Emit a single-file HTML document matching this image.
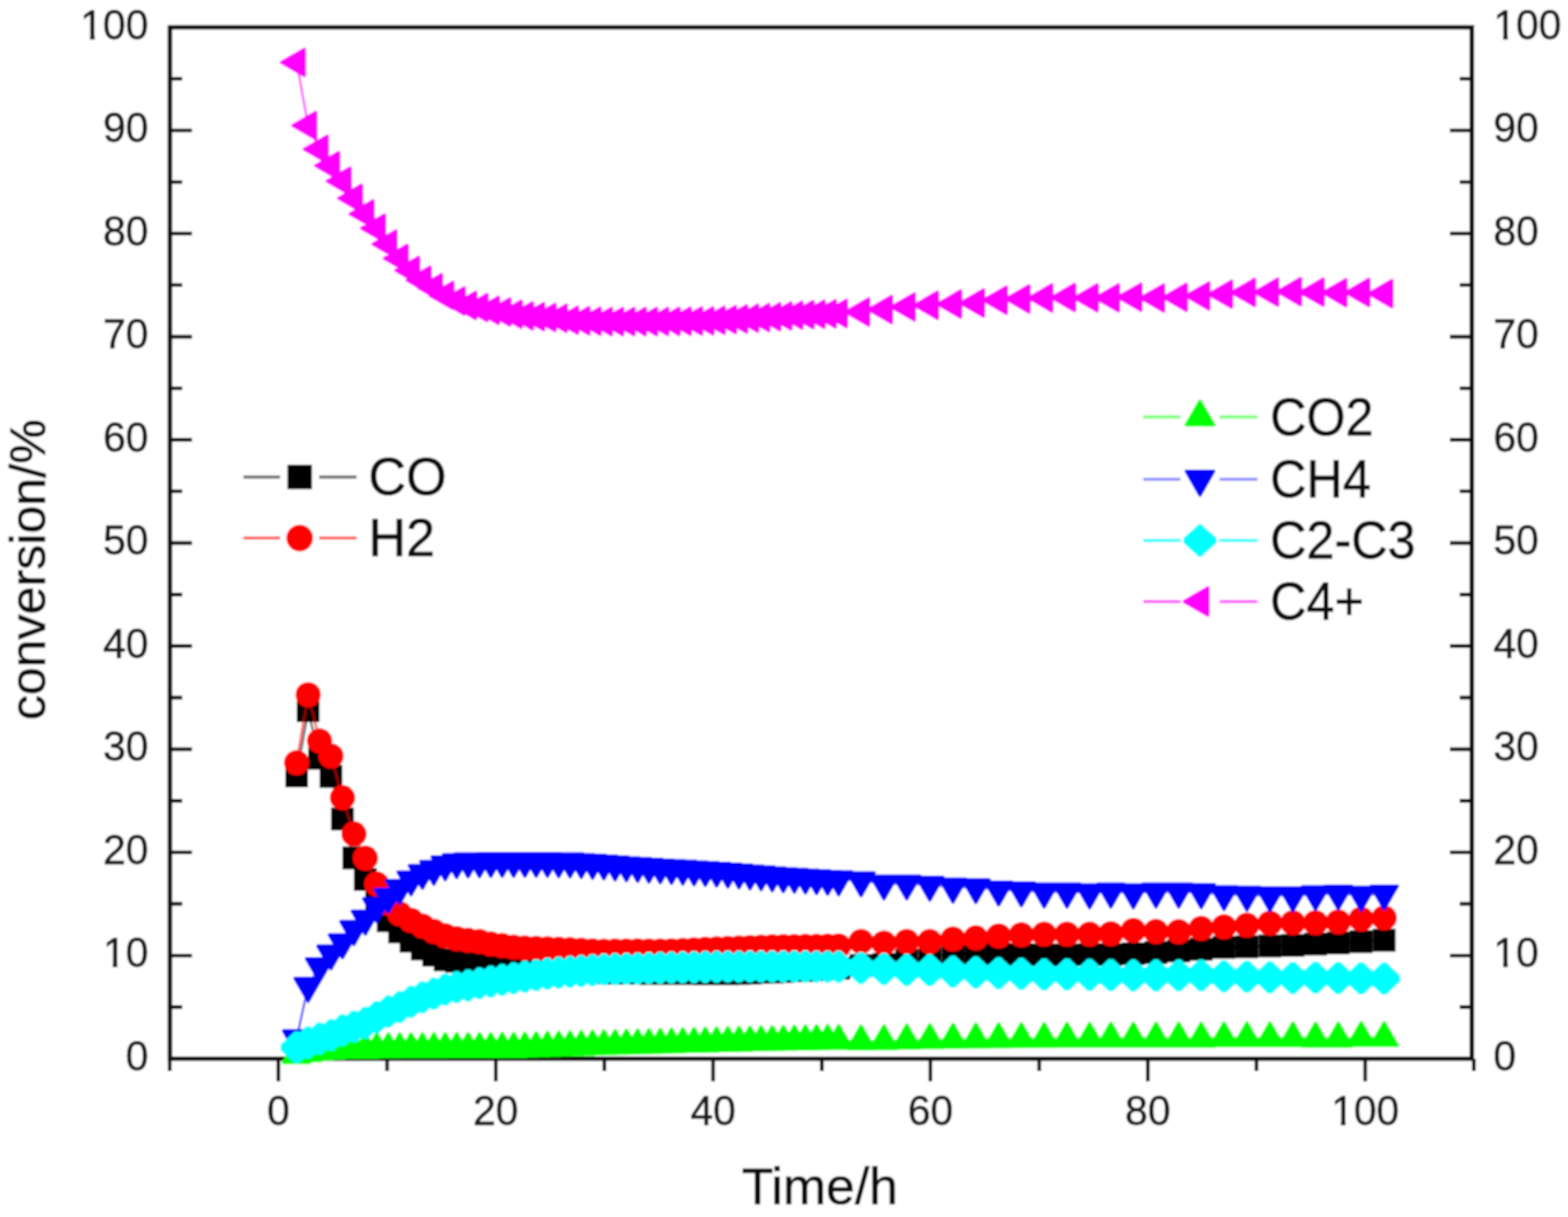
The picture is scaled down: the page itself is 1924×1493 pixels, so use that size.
<!DOCTYPE html>
<html><head><meta charset="utf-8"><title>conversion vs time</title>
<style>html,body{margin:0;padding:0;background:#fff;}svg{display:block;}</style>
</head><body>
<svg width="1924" height="1493" viewBox="0 0 1924 1493">
<defs><filter id="soft" x="0" y="0" width="100%" height="100%" filterUnits="userSpaceOnUse"><feGaussianBlur stdDeviation="1.3"/></filter></defs>
<g filter="url(#soft)">
<rect width="1924" height="1493" fill="#fff"/>
<path d="M208.5 33.5H1806V1298.7H208.5Z" fill="none" stroke="#111" stroke-width="5.6" stroke-linejoin="miter"/>
<path d="M208.5 1235.4h15M1806 1235.4h-15M208.5 1172.2h27M1806 1172.2h-27M208.5 1108.9h15M1806 1108.9h-15M208.5 1045.7h27M1806 1045.7h-27M208.5 982.4h15M1806 982.4h-15M208.5 919.1h27M1806 919.1h-27M208.5 855.9h15M1806 855.9h-15M208.5 792.6h27M1806 792.6h-27M208.5 729.4h15M1806 729.4h-15M208.5 666.1h27M1806 666.1h-27M208.5 602.8h15M1806 602.8h-15M208.5 539.6h27M1806 539.6h-27M208.5 476.3h15M1806 476.3h-15M208.5 413.1h27M1806 413.1h-27M208.5 349.8h15M1806 349.8h-15M208.5 286.5h27M1806 286.5h-27M208.5 223.3h15M1806 223.3h-15M208.5 160h27M1806 160h-27M208.5 96.8h15M1806 96.8h-15M208.2 1298.7v15.2M341.6 1298.7v27.7M475 1298.7v15.2M608.3 1298.7v27.7M741.7 1298.7v15.2M875 1298.7v27.7M1008.4 1298.7v15.2M1141.7 1298.7v27.7M1275.1 1298.7v15.2M1408.4 1298.7v27.7M1541.8 1298.7v15.2M1675.1 1298.7v27.7M1808.5 1298.7v15.2" fill="none" stroke="#111" stroke-width="4.6"/>
<g font-family="'Liberation Sans', Arial, Helvetica, sans-serif" stroke-width="0.9" font-size="50" fill="#1a1a1a" stroke="#1a1a1a"><text x="182" y="1312.7" text-anchor="end">0</text><text x="1832.5" y="1312.7">0</text><text x="182" y="1186.2" text-anchor="end">10</text><text x="1832.5" y="1186.2">10</text><text x="182" y="1059.7" text-anchor="end">20</text><text x="1832.5" y="1059.7">20</text><text x="182" y="933.1" text-anchor="end">30</text><text x="1832.5" y="933.1">30</text><text x="182" y="806.6" text-anchor="end">40</text><text x="1832.5" y="806.6">40</text><text x="182" y="680.1" text-anchor="end">50</text><text x="1832.5" y="680.1">50</text><text x="182" y="553.6" text-anchor="end">60</text><text x="1832.5" y="553.6">60</text><text x="182" y="427.1" text-anchor="end">70</text><text x="1832.5" y="427.1">70</text><text x="182" y="300.5" text-anchor="end">80</text><text x="1832.5" y="300.5">80</text><text x="182" y="174" text-anchor="end">90</text><text x="1832.5" y="174">90</text><text x="182" y="47.5" text-anchor="end">100</text><text x="1832.5" y="47.5">100</text><text x="341.6" y="1380" text-anchor="middle">0</text><text x="608.3" y="1380" text-anchor="middle">20</text><text x="875" y="1380" text-anchor="middle">40</text><text x="1141.7" y="1380" text-anchor="middle">60</text><text x="1408.4" y="1380" text-anchor="middle">80</text><text x="1675.1" y="1380" text-anchor="middle">100</text></g>
<rect x="129" y="1180.4" width="9.3" height="7.7" fill="#fff"/><rect x="144.1" y="1180.4" width="8.9" height="7.7" fill="#fff"/><rect x="1835.1" y="1180.4" width="9.3" height="7.7" fill="#fff"/><rect x="1850.2" y="1180.4" width="8.9" height="7.7" fill="#fff"/><rect x="101.2" y="41.8" width="9.3" height="7.7" fill="#fff"/><rect x="116.3" y="41.8" width="8.9" height="7.7" fill="#fff"/><rect x="1835.1" y="41.8" width="9.3" height="7.7" fill="#fff"/><rect x="1850.2" y="41.8" width="8.9" height="7.7" fill="#fff"/><rect x="1636" y="1374.3" width="9.3" height="7.7" fill="#fff"/><rect x="1651.1" y="1374.3" width="8.9" height="7.7" fill="#fff"/>
<text font-family="'Liberation Sans', Arial, Helvetica, sans-serif" stroke-width="0.9" font-size="63.5" fill="#111" stroke="#111" x="1006" y="1477" text-anchor="middle">Time/h</text>
<text font-family="'Liberation Sans', Arial, Helvetica, sans-serif" stroke-width="0.9" font-size="61.5" fill="#111" stroke="#111" transform="translate(55 699) rotate(-90)" text-anchor="middle">conversion/%</text>
<g>
<polyline points="364,952 378.1,871.7 392.1,930.2 406.1,952.6 420.2,1004.7 434.2,1052.5 448.3,1078.9 462.3,1104.6 476.4,1129.5 490.4,1143.2 504.4,1154.6 518.3,1164.3 532.3,1171.8 546.3,1177.5 560.3,1179.2 574.3,1180 588.3,1181.1 602.2,1182.2 616.2,1183.2 630.2,1184.3 644,1185.3 657.9,1186.5 671.7,1187.6 685.5,1188.8 699.4,1189.9 713.2,1191.1 727.1,1192.2 740.9,1193.3 754.7,1194 768.6,1194.1 782.4,1194.1 796.2,1194.2 810.1,1194.2 823.9,1194.2 837.8,1194.3 851.6,1194.3 865.4,1194.4 879.3,1194.4 893.1,1194.5 906.7,1194.2 920.3,1193.7 933.9,1193.1 947.5,1192.5 961.1,1191.9 974.7,1191.1 988.3,1190.4 1001.9,1189.6 1015.5,1188.8 1029.1,1188 1056.5,1184.5 1084.6,1183 1112.6,1178 1140.9,1174 1169.3,1170 1197.4,1169.5 1225.4,1170 1253.2,1171 1281.2,1171.5 1309.2,1171.5 1337,1171 1363,1171 1390.6,1170 1418.4,1168.5 1446.3,1166.5 1473.9,1164.5 1501.9,1162.2 1530,1161.4 1558.3,1160.6 1586.4,1159.8 1614.2,1158.3 1642.1,1156.7 1670.2,1155.2 1698.4,1153.6" fill="none" stroke="#000" stroke-width="3" stroke-opacity="0.55"/>
<path d="M350 938h28v28h-28ZM364.1 857.7h28v28h-28ZM378.1 916.2h28v28h-28ZM392.1 938.6h28v28h-28ZM406.2 990.7h28v28h-28ZM420.2 1038.5h28v28h-28ZM434.3 1064.9h28v28h-28ZM448.3 1090.6h28v28h-28ZM462.4 1115.5h28v28h-28ZM476.4 1129.2h28v28h-28ZM490.4 1140.6h28v28h-28ZM504.3 1150.3h28v28h-28ZM518.3 1157.8h28v28h-28ZM532.3 1163.5h28v28h-28ZM546.3 1165.2h28v28h-28ZM560.3 1166h28v28h-28ZM574.3 1167.1h28v28h-28ZM588.2 1168.2h28v28h-28ZM602.2 1169.2h28v28h-28ZM616.2 1170.3h28v28h-28ZM630 1171.3h28v28h-28ZM643.9 1172.5h28v28h-28ZM657.7 1173.6h28v28h-28ZM671.5 1174.8h28v28h-28ZM685.4 1175.9h28v28h-28ZM699.2 1177.1h28v28h-28ZM713.1 1178.2h28v28h-28ZM726.9 1179.3h28v28h-28ZM740.7 1180h28v28h-28ZM754.6 1180.1h28v28h-28ZM768.4 1180.1h28v28h-28ZM782.2 1180.2h28v28h-28ZM796.1 1180.2h28v28h-28ZM809.9 1180.2h28v28h-28ZM823.8 1180.3h28v28h-28ZM837.6 1180.3h28v28h-28ZM851.4 1180.4h28v28h-28ZM865.3 1180.4h28v28h-28ZM879.1 1180.5h28v28h-28ZM892.7 1180.2h28v28h-28ZM906.3 1179.7h28v28h-28ZM919.9 1179.1h28v28h-28ZM933.5 1178.5h28v28h-28ZM947.1 1177.9h28v28h-28ZM960.7 1177.1h28v28h-28ZM974.3 1176.4h28v28h-28ZM987.9 1175.6h28v28h-28ZM1001.5 1174.8h28v28h-28ZM1015.1 1174h28v28h-28ZM1042.5 1170.5h28v28h-28ZM1070.6 1169h28v28h-28ZM1098.6 1164h28v28h-28ZM1126.9 1160h28v28h-28ZM1155.3 1156h28v28h-28ZM1183.4 1155.5h28v28h-28ZM1211.4 1156h28v28h-28ZM1239.2 1157h28v28h-28ZM1267.2 1157.5h28v28h-28ZM1295.2 1157.5h28v28h-28ZM1323 1157h28v28h-28ZM1349 1157h28v28h-28ZM1376.6 1156h28v28h-28ZM1404.4 1154.5h28v28h-28ZM1432.3 1152.5h28v28h-28ZM1459.9 1150.5h28v28h-28ZM1487.9 1148.2h28v28h-28ZM1516 1147.4h28v28h-28ZM1544.3 1146.6h28v28h-28ZM1572.4 1145.8h28v28h-28ZM1600.2 1144.3h28v28h-28ZM1628.1 1142.7h28v28h-28ZM1656.2 1141.2h28v28h-28ZM1684.4 1139.6h28v28h-28Z" fill="#000000"/>
<polyline points="364,935.8 378.1,852.2 392.1,908.9 406.1,927.5 420.2,978.6 434.2,1023.1 448.3,1052.7 462.3,1084.6 476.4,1108 490.4,1121 504.4,1129 518.3,1136 532.3,1142.5 546.3,1148 560.3,1151.5 574.3,1153.5 588.3,1155 602.2,1158 616.2,1160 630.2,1162 644,1163 657.9,1163.5 671.7,1163.9 685.5,1164.4 699.4,1165 713.2,1165.8 727.1,1166.5 740.9,1166.9 754.7,1166.8 768.6,1166.7 782.4,1166.5 796.2,1166.7 810.1,1166.9 823.9,1166.5 837.8,1165.9 851.6,1165.2 865.4,1164.5 879.3,1163.9 893.1,1163.4 906.7,1163 920.3,1162.5 933.9,1162 947.5,1161.6 961.1,1161.3 974.7,1161.2 988.3,1161 1001.9,1160.9 1015.5,1160.7 1029.1,1160.6 1056.5,1155 1084.6,1157 1112.6,1155 1140.9,1155 1169.3,1152 1197.4,1150.6 1225.4,1148.2 1253.2,1146.7 1281.2,1146 1309.2,1146 1337,1146 1363,1145.5 1390.6,1141.5 1418.4,1142.8 1446.3,1143 1473.9,1139 1501.9,1137 1530,1135 1558.3,1132.5 1586.4,1132 1614.2,1132 1642.1,1131 1670.2,1127.5 1698.4,1126" fill="none" stroke="#ff0000" stroke-width="3" stroke-opacity="0.6"/>
<path d="M348.5 935.8a15.5 15.5 0 1 0 31 0a15.5 15.5 0 1 0 -31 0ZM362.6 852.2a15.5 15.5 0 1 0 31 0a15.5 15.5 0 1 0 -31 0ZM376.6 908.9a15.5 15.5 0 1 0 31 0a15.5 15.5 0 1 0 -31 0ZM390.6 927.5a15.5 15.5 0 1 0 31 0a15.5 15.5 0 1 0 -31 0ZM404.7 978.6a15.5 15.5 0 1 0 31 0a15.5 15.5 0 1 0 -31 0ZM418.8 1023.1a15.5 15.5 0 1 0 31 0a15.5 15.5 0 1 0 -31 0ZM432.8 1052.7a15.5 15.5 0 1 0 31 0a15.5 15.5 0 1 0 -31 0ZM446.8 1084.6a15.5 15.5 0 1 0 31 0a15.5 15.5 0 1 0 -31 0ZM460.9 1108a15.5 15.5 0 1 0 31 0a15.5 15.5 0 1 0 -31 0ZM474.9 1121a15.5 15.5 0 1 0 31 0a15.5 15.5 0 1 0 -31 0ZM488.9 1129a15.5 15.5 0 1 0 31 0a15.5 15.5 0 1 0 -31 0ZM502.8 1136a15.5 15.5 0 1 0 31 0a15.5 15.5 0 1 0 -31 0ZM516.8 1142.5a15.5 15.5 0 1 0 31 0a15.5 15.5 0 1 0 -31 0ZM530.8 1148a15.5 15.5 0 1 0 31 0a15.5 15.5 0 1 0 -31 0ZM544.8 1151.5a15.5 15.5 0 1 0 31 0a15.5 15.5 0 1 0 -31 0ZM558.8 1153.5a15.5 15.5 0 1 0 31 0a15.5 15.5 0 1 0 -31 0ZM572.8 1155a15.5 15.5 0 1 0 31 0a15.5 15.5 0 1 0 -31 0ZM586.7 1158a15.5 15.5 0 1 0 31 0a15.5 15.5 0 1 0 -31 0ZM600.7 1160a15.5 15.5 0 1 0 31 0a15.5 15.5 0 1 0 -31 0ZM614.7 1162a15.5 15.5 0 1 0 31 0a15.5 15.5 0 1 0 -31 0ZM628.5 1163a15.5 15.5 0 1 0 31 0a15.5 15.5 0 1 0 -31 0ZM642.4 1163.5a15.5 15.5 0 1 0 31 0a15.5 15.5 0 1 0 -31 0ZM656.2 1163.9a15.5 15.5 0 1 0 31 0a15.5 15.5 0 1 0 -31 0ZM670 1164.4a15.5 15.5 0 1 0 31 0a15.5 15.5 0 1 0 -31 0ZM683.9 1165a15.5 15.5 0 1 0 31 0a15.5 15.5 0 1 0 -31 0ZM697.7 1165.8a15.5 15.5 0 1 0 31 0a15.5 15.5 0 1 0 -31 0ZM711.6 1166.5a15.5 15.5 0 1 0 31 0a15.5 15.5 0 1 0 -31 0ZM725.4 1166.9a15.5 15.5 0 1 0 31 0a15.5 15.5 0 1 0 -31 0ZM739.2 1166.8a15.5 15.5 0 1 0 31 0a15.5 15.5 0 1 0 -31 0ZM753.1 1166.7a15.5 15.5 0 1 0 31 0a15.5 15.5 0 1 0 -31 0ZM766.9 1166.5a15.5 15.5 0 1 0 31 0a15.5 15.5 0 1 0 -31 0ZM780.7 1166.7a15.5 15.5 0 1 0 31 0a15.5 15.5 0 1 0 -31 0ZM794.6 1166.9a15.5 15.5 0 1 0 31 0a15.5 15.5 0 1 0 -31 0ZM808.4 1166.5a15.5 15.5 0 1 0 31 0a15.5 15.5 0 1 0 -31 0ZM822.3 1165.9a15.5 15.5 0 1 0 31 0a15.5 15.5 0 1 0 -31 0ZM836.1 1165.2a15.5 15.5 0 1 0 31 0a15.5 15.5 0 1 0 -31 0ZM849.9 1164.5a15.5 15.5 0 1 0 31 0a15.5 15.5 0 1 0 -31 0ZM863.8 1163.9a15.5 15.5 0 1 0 31 0a15.5 15.5 0 1 0 -31 0ZM877.6 1163.4a15.5 15.5 0 1 0 31 0a15.5 15.5 0 1 0 -31 0ZM891.2 1163a15.5 15.5 0 1 0 31 0a15.5 15.5 0 1 0 -31 0ZM904.8 1162.5a15.5 15.5 0 1 0 31 0a15.5 15.5 0 1 0 -31 0ZM918.4 1162a15.5 15.5 0 1 0 31 0a15.5 15.5 0 1 0 -31 0ZM932 1161.6a15.5 15.5 0 1 0 31 0a15.5 15.5 0 1 0 -31 0ZM945.6 1161.3a15.5 15.5 0 1 0 31 0a15.5 15.5 0 1 0 -31 0ZM959.2 1161.2a15.5 15.5 0 1 0 31 0a15.5 15.5 0 1 0 -31 0ZM972.8 1161a15.5 15.5 0 1 0 31 0a15.5 15.5 0 1 0 -31 0ZM986.4 1160.9a15.5 15.5 0 1 0 31 0a15.5 15.5 0 1 0 -31 0ZM1000 1160.7a15.5 15.5 0 1 0 31 0a15.5 15.5 0 1 0 -31 0ZM1013.6 1160.6a15.5 15.5 0 1 0 31 0a15.5 15.5 0 1 0 -31 0ZM1041 1155a15.5 15.5 0 1 0 31 0a15.5 15.5 0 1 0 -31 0ZM1069.1 1157a15.5 15.5 0 1 0 31 0a15.5 15.5 0 1 0 -31 0ZM1097.1 1155a15.5 15.5 0 1 0 31 0a15.5 15.5 0 1 0 -31 0ZM1125.4 1155a15.5 15.5 0 1 0 31 0a15.5 15.5 0 1 0 -31 0ZM1153.8 1152a15.5 15.5 0 1 0 31 0a15.5 15.5 0 1 0 -31 0ZM1181.9 1150.6a15.5 15.5 0 1 0 31 0a15.5 15.5 0 1 0 -31 0ZM1209.9 1148.2a15.5 15.5 0 1 0 31 0a15.5 15.5 0 1 0 -31 0ZM1237.7 1146.7a15.5 15.5 0 1 0 31 0a15.5 15.5 0 1 0 -31 0ZM1265.7 1146a15.5 15.5 0 1 0 31 0a15.5 15.5 0 1 0 -31 0ZM1293.7 1146a15.5 15.5 0 1 0 31 0a15.5 15.5 0 1 0 -31 0ZM1321.5 1146a15.5 15.5 0 1 0 31 0a15.5 15.5 0 1 0 -31 0ZM1347.5 1145.5a15.5 15.5 0 1 0 31 0a15.5 15.5 0 1 0 -31 0ZM1375.1 1141.5a15.5 15.5 0 1 0 31 0a15.5 15.5 0 1 0 -31 0ZM1402.9 1142.8a15.5 15.5 0 1 0 31 0a15.5 15.5 0 1 0 -31 0ZM1430.8 1143a15.5 15.5 0 1 0 31 0a15.5 15.5 0 1 0 -31 0ZM1458.4 1139a15.5 15.5 0 1 0 31 0a15.5 15.5 0 1 0 -31 0ZM1486.4 1137a15.5 15.5 0 1 0 31 0a15.5 15.5 0 1 0 -31 0ZM1514.5 1135a15.5 15.5 0 1 0 31 0a15.5 15.5 0 1 0 -31 0ZM1542.8 1132.5a15.5 15.5 0 1 0 31 0a15.5 15.5 0 1 0 -31 0ZM1570.9 1132a15.5 15.5 0 1 0 31 0a15.5 15.5 0 1 0 -31 0ZM1598.7 1132a15.5 15.5 0 1 0 31 0a15.5 15.5 0 1 0 -31 0ZM1626.6 1131a15.5 15.5 0 1 0 31 0a15.5 15.5 0 1 0 -31 0ZM1654.7 1127.5a15.5 15.5 0 1 0 31 0a15.5 15.5 0 1 0 -31 0ZM1682.9 1126a15.5 15.5 0 1 0 31 0a15.5 15.5 0 1 0 -31 0Z" fill="#ff0000"/>
<polyline points="364,1294 378.1,1292 392.1,1290 406.1,1289 420.2,1288 434.2,1287.7 448.3,1287.5 462.3,1287.2 476.4,1287 490.4,1287 504.4,1286.9 518.3,1286.9 532.3,1286.8 546.3,1286.8 560.3,1286.7 574.3,1286.7 588.3,1286.6 602.2,1286.6 616.2,1286.5 630.2,1286.5 644,1286.1 657.9,1285.7 671.7,1285.3 685.5,1284.9 699.4,1284.5 713.2,1284.1 727.1,1283.7 740.9,1283.3 754.7,1282.9 768.6,1282.5 782.4,1282.2 796.2,1281.8 810.1,1281.5 823.9,1281.1 837.8,1280.7 851.6,1280.4 865.4,1280 879.3,1279.7 893.1,1279.3 906.7,1279 920.3,1278.7 933.9,1278.5 947.5,1278.2 961.1,1277.9 974.7,1277.6 988.3,1277.3 1001.9,1277 1015.5,1276.9 1029.1,1276.8 1056.5,1277.4 1084.6,1277.2 1112.6,1276.3 1140.9,1275.8 1169.3,1275.4 1197.4,1275 1225.4,1274.8 1253.2,1274.6 1281.2,1274.4 1309.2,1274.2 1337,1274.2 1363,1274 1390.6,1274 1418.4,1274 1446.3,1274 1473.9,1274 1501.9,1273.6 1530,1273.6 1558.3,1273.6 1586.4,1273.6 1614.2,1274 1642.1,1274 1670.2,1273.2 1698.4,1273.2" fill="none" stroke="#00ff00" stroke-width="3" stroke-opacity="0.6"/>
<path d="M364 1275.3L380.2 1303.4L347.8 1303.4ZM378.1 1273.3L394.2 1301.3L361.9 1301.3ZM392.1 1271.3L408.3 1299.3L375.9 1299.3ZM406.1 1270.3L422.3 1298.3L389.9 1298.3ZM420.2 1269.3L436.4 1297.3L404 1297.3ZM434.2 1269L450.4 1297.1L418.1 1297.1ZM448.3 1268.8L464.5 1296.9L432.1 1296.9ZM462.3 1268.5L478.5 1296.6L446.1 1296.6ZM476.4 1268.3L492.6 1296.4L460.2 1296.4ZM490.4 1268.2L506.6 1296.3L474.2 1296.3ZM504.4 1268.2L520.6 1296.3L488.2 1296.3ZM518.3 1268.2L534.5 1296.2L502.1 1296.2ZM532.3 1268.1L548.5 1296.2L516.1 1296.2ZM546.3 1268.1L562.5 1296.1L530.1 1296.1ZM560.3 1268L576.5 1296.1L544.1 1296.1ZM574.3 1268L590.5 1296L558.1 1296ZM588.3 1267.9L604.5 1296L572.1 1296ZM602.2 1267.9L618.4 1295.9L586 1295.9ZM616.2 1267.8L632.4 1295.9L600 1295.9ZM630.2 1267.8L646.4 1295.9L614 1295.9ZM644 1267.4L660.2 1295.5L627.8 1295.5ZM657.9 1267L674.1 1295.1L641.7 1295.1ZM671.7 1266.6L687.9 1294.7L655.5 1294.7ZM685.5 1266.2L701.7 1294.2L669.3 1294.2ZM699.4 1265.8L715.6 1293.8L683.2 1293.8ZM713.2 1265.4L729.4 1293.4L697 1293.4ZM727.1 1265L743.3 1293L710.9 1293ZM740.9 1264.6L757.1 1292.6L724.7 1292.6ZM754.7 1264.2L770.9 1292.3L738.5 1292.3ZM768.6 1263.8L784.8 1291.9L752.4 1291.9ZM782.4 1263.5L798.6 1291.5L766.2 1291.5ZM796.2 1263.1L812.4 1291.2L780 1291.2ZM810.1 1262.8L826.3 1290.8L793.9 1290.8ZM823.9 1262.4L840.1 1290.5L807.7 1290.5ZM837.8 1262L854 1290.1L821.6 1290.1ZM851.6 1261.7L867.8 1289.7L835.4 1289.7ZM865.4 1261.3L881.6 1289.4L849.2 1289.4ZM879.3 1261L895.5 1289L863.1 1289ZM893.1 1260.6L909.3 1288.7L876.9 1288.7ZM906.7 1260.3L922.9 1288.4L890.5 1288.4ZM920.3 1260L936.5 1288.1L904.1 1288.1ZM933.9 1259.7L950.1 1287.8L917.7 1287.8ZM947.5 1259.5L963.7 1287.5L931.3 1287.5ZM961.1 1259.2L977.3 1287.2L944.9 1287.2ZM974.7 1258.9L990.9 1287L958.5 1287ZM988.3 1258.6L1004.5 1286.7L972.1 1286.7ZM1001.9 1258.3L1018.1 1286.4L985.7 1286.4ZM1015.5 1258.2L1031.7 1286.3L999.3 1286.3ZM1029.1 1258.1L1045.3 1286.2L1012.9 1286.2ZM1056.5 1258.7L1072.7 1286.8L1040.3 1286.8ZM1084.6 1258.5L1100.8 1286.6L1068.4 1286.6ZM1112.6 1257.6L1128.8 1285.7L1096.4 1285.7ZM1140.9 1257.1L1157.1 1285.2L1124.7 1285.2ZM1169.3 1256.7L1185.5 1284.8L1153.1 1284.8ZM1197.4 1256.3L1213.6 1284.4L1181.2 1284.4ZM1225.4 1256.1L1241.6 1284.2L1209.2 1284.2ZM1253.2 1255.9L1269.4 1284L1237 1284ZM1281.2 1255.7L1297.4 1283.8L1265 1283.8ZM1309.2 1255.5L1325.4 1283.6L1293 1283.6ZM1337 1255.5L1353.2 1283.6L1320.8 1283.6ZM1363 1255.3L1379.2 1283.4L1346.8 1283.4ZM1390.6 1255.3L1406.8 1283.4L1374.4 1283.4ZM1418.4 1255.3L1434.6 1283.4L1402.2 1283.4ZM1446.3 1255.3L1462.5 1283.4L1430.1 1283.4ZM1473.9 1255.3L1490.1 1283.4L1457.7 1283.4ZM1501.9 1254.9L1518.1 1283L1485.7 1283ZM1530 1254.9L1546.2 1283L1513.8 1283ZM1558.3 1254.9L1574.5 1283L1542.1 1283ZM1586.4 1254.9L1602.6 1283L1570.2 1283ZM1614.2 1255.3L1630.4 1283.4L1598 1283.4ZM1642.1 1255.3L1658.3 1283.4L1625.9 1283.4ZM1670.2 1254.5L1686.4 1282.6L1654 1282.6ZM1698.4 1254.5L1714.6 1282.6L1682.2 1282.6Z" fill="#00ff00" stroke="#00ff00" stroke-width="4.0" stroke-linejoin="round"/>
<polyline points="364,1274 378.1,1209.6 392.1,1185.3 406.1,1169.9 420.2,1156.2 434.2,1140 448.3,1127.2 462.3,1111.8 476.4,1100.4 490.4,1089.5 504.4,1079 518.3,1071 532.3,1066 546.3,1060.6 560.3,1057.9 574.3,1057 588.3,1056.7 602.2,1056.5 616.2,1056.4 630.2,1056.3 644,1056.3 657.9,1056.2 671.7,1056.4 685.5,1056.7 699.4,1057 713.2,1057.8 727.1,1058.7 740.9,1059.6 754.7,1060.7 768.6,1061.7 782.4,1062.6 796.2,1063.5 810.1,1064.3 823.9,1065.1 837.8,1065.9 851.6,1066.7 865.4,1067.5 879.3,1068.3 893.1,1069.4 906.7,1070.6 920.3,1071.8 933.9,1072.9 947.5,1074.1 961.1,1075.2 974.7,1075.9 988.3,1076.7 1001.9,1077.5 1015.5,1078.2 1029.1,1079 1056.5,1080.2 1084.6,1084.1 1112.6,1084.1 1140.9,1085.6 1169.3,1088 1197.4,1088.6 1225.4,1091.5 1253.2,1092.5 1281.2,1094 1309.2,1094 1337,1095 1363,1094 1390.6,1095 1418.4,1094 1446.3,1094 1473.9,1094.7 1501.9,1097.1 1530,1097.9 1558.3,1098.6 1586.4,1098.6 1614.2,1097.1 1642.1,1096.3 1670.2,1097.9 1698.4,1096.3" fill="none" stroke="#0000ff" stroke-width="3" stroke-opacity="0.6"/>
<path d="M364 1292.7L380.2 1264.6L347.8 1264.6ZM378.1 1228.3L394.2 1200.3L361.9 1200.3ZM392.1 1204L408.3 1175.9L375.9 1175.9ZM406.1 1188.6L422.3 1160.5L389.9 1160.5ZM420.2 1174.9L436.4 1146.8L404 1146.8ZM434.2 1158.7L450.4 1130.6L418.1 1130.6ZM448.3 1145.9L464.5 1117.8L432.1 1117.8ZM462.3 1130.5L478.5 1102.5L446.1 1102.5ZM476.4 1119.1L492.6 1091L460.2 1091ZM490.4 1108.2L506.6 1080.2L474.2 1080.2ZM504.4 1097.7L520.6 1069.7L488.2 1069.7ZM518.3 1089.7L534.5 1061.7L502.1 1061.7ZM532.3 1084.7L548.5 1056.7L516.1 1056.7ZM546.3 1079.3L562.5 1051.3L530.1 1051.3ZM560.3 1076.6L576.5 1048.5L544.1 1048.5ZM574.3 1075.7L590.5 1047.6L558.1 1047.6ZM588.3 1075.4L604.5 1047.4L572.1 1047.4ZM602.2 1075.2L618.4 1047.1L586 1047.1ZM616.2 1075.1L632.4 1047.1L600 1047.1ZM630.2 1075.1L646.4 1047L614 1047ZM644 1075L660.2 1046.9L627.8 1046.9ZM657.9 1074.9L674.1 1046.9L641.7 1046.9ZM671.7 1075.1L687.9 1047.1L655.5 1047.1ZM685.5 1075.4L701.7 1047.4L669.3 1047.4ZM699.4 1075.7L715.6 1047.6L683.2 1047.6ZM713.2 1076.5L729.4 1048.5L697 1048.5ZM727.1 1077.4L743.3 1049.3L710.9 1049.3ZM740.9 1078.3L757.1 1050.2L724.7 1050.2ZM754.7 1079.4L770.9 1051.3L738.5 1051.3ZM768.6 1080.4L784.8 1052.4L752.4 1052.4ZM782.4 1081.3L798.6 1053.3L766.2 1053.3ZM796.2 1082.2L812.4 1054.1L780 1054.1ZM810.1 1083L826.3 1054.9L793.9 1054.9ZM823.9 1083.8L840.1 1055.8L807.7 1055.8ZM837.8 1084.6L854 1056.6L821.6 1056.6ZM851.6 1085.4L867.8 1057.4L835.4 1057.4ZM865.4 1086.2L881.6 1058.2L849.2 1058.2ZM879.3 1087L895.5 1059L863.1 1059ZM893.1 1088.2L909.3 1060.1L876.9 1060.1ZM906.7 1089.3L922.9 1061.3L890.5 1061.3ZM920.3 1090.5L936.5 1062.4L904.1 1062.4ZM933.9 1091.6L950.1 1063.6L917.7 1063.6ZM947.5 1092.8L963.7 1064.7L931.3 1064.7ZM961.1 1093.9L977.3 1065.8L944.9 1065.8ZM974.7 1094.6L990.9 1066.6L958.5 1066.6ZM988.3 1095.4L1004.5 1067.4L972.1 1067.4ZM1001.9 1096.2L1018.1 1068.1L985.7 1068.1ZM1015.5 1096.9L1031.7 1068.9L999.3 1068.9ZM1029.1 1097.7L1045.3 1069.6L1012.9 1069.6ZM1056.5 1098.9L1072.7 1070.8L1040.3 1070.8ZM1084.6 1102.8L1100.8 1074.7L1068.4 1074.7ZM1112.6 1102.8L1128.8 1074.7L1096.4 1074.7ZM1140.9 1104.3L1157.1 1076.2L1124.7 1076.2ZM1169.3 1106.7L1185.5 1078.6L1153.1 1078.6ZM1197.4 1107.3L1213.6 1079.2L1181.2 1079.2ZM1225.4 1110.2L1241.6 1082.1L1209.2 1082.1ZM1253.2 1111.2L1269.4 1083.1L1237 1083.1ZM1281.2 1112.7L1297.4 1084.6L1265 1084.6ZM1309.2 1112.7L1325.4 1084.6L1293 1084.6ZM1337 1113.7L1353.2 1085.6L1320.8 1085.6ZM1363 1112.7L1379.2 1084.6L1346.8 1084.6ZM1390.6 1113.7L1406.8 1085.6L1374.4 1085.6ZM1418.4 1112.7L1434.6 1084.6L1402.2 1084.6ZM1446.3 1112.7L1462.5 1084.6L1430.1 1084.6ZM1473.9 1113.4L1490.1 1085.3L1457.7 1085.3ZM1501.9 1115.8L1518.1 1087.7L1485.7 1087.7ZM1530 1116.6L1546.2 1088.5L1513.8 1088.5ZM1558.3 1117.3L1574.5 1089.2L1542.1 1089.2ZM1586.4 1117.3L1602.6 1089.2L1570.2 1089.2ZM1614.2 1115.8L1630.4 1087.7L1598 1087.7ZM1642.1 1115L1658.3 1086.9L1625.9 1086.9ZM1670.2 1116.6L1686.4 1088.5L1654 1088.5ZM1698.4 1115L1714.6 1086.9L1682.2 1086.9Z" fill="#0000ff" stroke="#0000ff" stroke-width="4.0" stroke-linejoin="round"/>
<polyline points="364,1285 378.1,1279 392.1,1274 406.1,1269.9 420.2,1263.9 434.2,1259.4 448.3,1254.8 462.3,1247.8 476.4,1241 490.4,1235.5 504.4,1229 518.3,1223.5 532.3,1219 546.3,1214 560.3,1211 574.3,1209 588.3,1206.4 602.2,1204.3 616.2,1202.1 630.2,1200.1 644,1198.2 657.9,1196.4 671.7,1194.5 685.5,1193.3 699.4,1192.3 713.2,1191.3 727.1,1190.3 740.9,1189.4 754.7,1189 768.6,1188.6 782.4,1188.2 796.2,1187.7 810.1,1187.3 823.9,1187 837.8,1186.7 851.6,1186.5 865.4,1186.2 879.3,1186 893.1,1185.9 906.7,1185.9 920.3,1185.8 933.9,1185.8 947.5,1185.7 961.1,1185.7 974.7,1185.8 988.3,1185.8 1001.9,1185.9 1015.5,1185.9 1029.1,1186 1056.5,1187.6 1084.6,1188.8 1112.6,1190 1140.9,1190.3 1169.3,1192 1197.4,1193 1225.4,1194 1253.2,1194.7 1281.2,1195.5 1309.2,1195.5 1337,1196 1363,1196.3 1390.6,1196.7 1418.4,1196.7 1446.3,1196.6 1473.9,1196.6 1501.9,1197.8 1530,1198.2 1558.3,1199 1586.4,1199.8 1614.2,1199.4 1642.1,1199.8 1670.2,1200.2 1698.4,1200.5" fill="none" stroke="#00ffff" stroke-width="3" stroke-opacity="0.7"/>
<path d="M361.4 1265.3L366.6 1265.3L383.7 1281.4L383.7 1288.6L366.6 1304.7L361.4 1304.7L344.3 1288.6L344.3 1281.4ZM375.4 1259.3L380.7 1259.3L397.8 1275.4L397.8 1282.6L380.7 1298.7L375.4 1298.7L358.4 1282.6L358.4 1275.4ZM389.5 1254.3L394.7 1254.3L411.8 1270.4L411.8 1277.6L394.7 1293.7L389.5 1293.7L372.4 1277.6L372.4 1270.4ZM403.5 1250.2L408.8 1250.2L425.8 1266.3L425.8 1273.5L408.8 1289.6L403.5 1289.6L386.4 1273.5L386.4 1266.3ZM417.6 1244.2L422.8 1244.2L439.9 1260.3L439.9 1267.5L422.8 1283.6L417.6 1283.6L400.5 1267.5L400.5 1260.3ZM431.6 1239.7L436.9 1239.7L453.9 1255.8L453.9 1263L436.9 1279.1L431.6 1279.1L414.6 1263L414.6 1255.8ZM445.7 1235.1L450.9 1235.1L468 1251.2L468 1258.4L450.9 1274.5L445.7 1274.5L428.6 1258.4L428.6 1251.2ZM459.7 1228.1L464.9 1228.1L482 1244.2L482 1251.4L464.9 1267.5L459.7 1267.5L442.6 1251.4L442.6 1244.2ZM473.8 1221.3L479 1221.3L496.1 1237.4L496.1 1244.6L479 1260.7L473.8 1260.7L456.7 1244.6L456.7 1237.4ZM487.8 1215.8L493 1215.8L510.1 1231.9L510.1 1239.1L493 1255.2L487.8 1255.2L470.7 1239.1L470.7 1231.9ZM501.8 1209.3L507 1209.3L524.1 1225.4L524.1 1232.6L507 1248.7L501.8 1248.7L484.7 1232.6L484.7 1225.4ZM515.7 1203.8L520.9 1203.8L538 1219.9L538 1227.1L520.9 1243.2L515.7 1243.2L498.6 1227.1L498.6 1219.9ZM529.7 1199.3L534.9 1199.3L552 1215.4L552 1222.6L534.9 1238.7L529.7 1238.7L512.6 1222.6L512.6 1215.4ZM543.7 1194.3L548.9 1194.3L566 1210.4L566 1217.6L548.9 1233.7L543.7 1233.7L526.6 1217.6L526.6 1210.4ZM557.7 1191.3L562.9 1191.3L580 1207.4L580 1214.6L562.9 1230.7L557.7 1230.7L540.6 1214.6L540.6 1207.4ZM571.7 1189.3L576.9 1189.3L594 1205.4L594 1212.6L576.9 1228.7L571.7 1228.7L554.6 1212.6L554.6 1205.4ZM585.7 1186.7L590.9 1186.7L608 1202.8L608 1210L590.9 1226.1L585.7 1226.1L568.6 1210L568.6 1202.8ZM599.6 1184.6L604.8 1184.6L621.9 1200.7L621.9 1207.9L604.8 1224L599.6 1224L582.5 1207.9L582.5 1200.7ZM613.6 1182.4L618.8 1182.4L635.9 1198.5L635.9 1205.7L618.8 1221.8L613.6 1221.8L596.5 1205.7L596.5 1198.5ZM627.6 1180.4L632.8 1180.4L649.9 1196.5L649.9 1203.7L632.8 1219.8L627.6 1219.8L610.5 1203.7L610.5 1196.5ZM641.4 1178.5L646.6 1178.5L663.7 1194.6L663.7 1201.8L646.6 1217.9L641.4 1217.9L624.3 1201.8L624.3 1194.6ZM655.3 1176.7L660.5 1176.7L677.6 1192.8L677.6 1200L660.5 1216.1L655.3 1216.1L638.2 1200L638.2 1192.8ZM669.1 1174.8L674.3 1174.8L691.4 1190.9L691.4 1198.1L674.3 1214.2L669.1 1214.2L652 1198.1L652 1190.9ZM682.9 1173.6L688.1 1173.6L705.2 1189.7L705.2 1196.9L688.1 1213L682.9 1213L665.8 1196.9L665.8 1189.7ZM696.8 1172.6L702 1172.6L719.1 1188.7L719.1 1195.9L702 1212L696.8 1212L679.7 1195.9L679.7 1188.7ZM710.6 1171.6L715.8 1171.6L732.9 1187.7L732.9 1194.9L715.8 1211L710.6 1211L693.5 1194.9L693.5 1187.7ZM724.5 1170.6L729.7 1170.6L746.8 1186.7L746.8 1193.9L729.7 1210L724.5 1210L707.4 1193.9L707.4 1186.7ZM738.3 1169.7L743.5 1169.7L760.6 1185.8L760.6 1193L743.5 1209.1L738.3 1209.1L721.2 1193L721.2 1185.8ZM752.1 1169.3L757.3 1169.3L774.4 1185.4L774.4 1192.6L757.3 1208.7L752.1 1208.7L735 1192.6L735 1185.4ZM766 1168.9L771.2 1168.9L788.3 1185L788.3 1192.2L771.2 1208.3L766 1208.3L748.9 1192.2L748.9 1185ZM779.8 1168.5L785 1168.5L802.1 1184.6L802.1 1191.8L785 1207.9L779.8 1207.9L762.7 1191.8L762.7 1184.6ZM793.6 1168L798.8 1168L815.9 1184.1L815.9 1191.3L798.8 1207.4L793.6 1207.4L776.5 1191.3L776.5 1184.1ZM807.5 1167.6L812.7 1167.6L829.8 1183.7L829.8 1190.9L812.7 1207L807.5 1207L790.4 1190.9L790.4 1183.7ZM821.3 1167.3L826.5 1167.3L843.6 1183.4L843.6 1190.6L826.5 1206.7L821.3 1206.7L804.2 1190.6L804.2 1183.4ZM835.2 1167L840.4 1167L857.5 1183.1L857.5 1190.3L840.4 1206.4L835.2 1206.4L818.1 1190.3L818.1 1183.1ZM849 1166.8L854.2 1166.8L871.3 1182.9L871.3 1190.1L854.2 1206.2L849 1206.2L831.9 1190.1L831.9 1182.9ZM862.8 1166.5L868 1166.5L885.1 1182.6L885.1 1189.8L868 1205.9L862.8 1205.9L845.7 1189.8L845.7 1182.6ZM876.7 1166.3L881.9 1166.3L899 1182.4L899 1189.6L881.9 1205.7L876.7 1205.7L859.6 1189.6L859.6 1182.4ZM890.5 1166.2L895.7 1166.2L912.8 1182.3L912.8 1189.5L895.7 1205.6L890.5 1205.6L873.4 1189.5L873.4 1182.3ZM904.1 1166.2L909.3 1166.2L926.4 1182.3L926.4 1189.5L909.3 1205.6L904.1 1205.6L887 1189.5L887 1182.3ZM917.7 1166.1L922.9 1166.1L940 1182.2L940 1189.4L922.9 1205.5L917.7 1205.5L900.6 1189.4L900.6 1182.2ZM931.3 1166.1L936.5 1166.1L953.6 1182.2L953.6 1189.4L936.5 1205.5L931.3 1205.5L914.2 1189.4L914.2 1182.2ZM944.9 1166L950.1 1166L967.2 1182.1L967.2 1189.3L950.1 1205.4L944.9 1205.4L927.8 1189.3L927.8 1182.1ZM958.5 1166L963.7 1166L980.8 1182.1L980.8 1189.3L963.7 1205.4L958.5 1205.4L941.4 1189.3L941.4 1182.1ZM972.1 1166.1L977.3 1166.1L994.4 1182.2L994.4 1189.4L977.3 1205.5L972.1 1205.5L955 1189.4L955 1182.2ZM985.7 1166.1L990.9 1166.1L1008 1182.2L1008 1189.4L990.9 1205.5L985.7 1205.5L968.6 1189.4L968.6 1182.2ZM999.3 1166.2L1004.5 1166.2L1021.6 1182.3L1021.6 1189.5L1004.5 1205.6L999.3 1205.6L982.2 1189.5L982.2 1182.3ZM1012.9 1166.2L1018.1 1166.2L1035.2 1182.3L1035.2 1189.5L1018.1 1205.6L1012.9 1205.6L995.8 1189.5L995.8 1182.3ZM1026.5 1166.3L1031.7 1166.3L1048.8 1182.4L1048.8 1189.6L1031.7 1205.7L1026.5 1205.7L1009.4 1189.6L1009.4 1182.4ZM1053.9 1167.9L1059.1 1167.9L1076.2 1184L1076.2 1191.2L1059.1 1207.3L1053.9 1207.3L1036.8 1191.2L1036.8 1184ZM1082 1169.1L1087.2 1169.1L1104.3 1185.2L1104.3 1192.4L1087.2 1208.5L1082 1208.5L1064.9 1192.4L1064.9 1185.2ZM1110 1170.3L1115.2 1170.3L1132.3 1186.4L1132.3 1193.6L1115.2 1209.7L1110 1209.7L1092.9 1193.6L1092.9 1186.4ZM1138.3 1170.6L1143.5 1170.6L1160.6 1186.7L1160.6 1193.9L1143.5 1210L1138.3 1210L1121.2 1193.9L1121.2 1186.7ZM1166.7 1172.3L1171.9 1172.3L1189 1188.4L1189 1195.6L1171.9 1211.7L1166.7 1211.7L1149.6 1195.6L1149.6 1188.4ZM1194.8 1173.3L1200 1173.3L1217.1 1189.4L1217.1 1196.6L1200 1212.7L1194.8 1212.7L1177.7 1196.6L1177.7 1189.4ZM1222.8 1174.3L1228 1174.3L1245.1 1190.4L1245.1 1197.6L1228 1213.7L1222.8 1213.7L1205.7 1197.6L1205.7 1190.4ZM1250.6 1175L1255.8 1175L1272.9 1191.1L1272.9 1198.3L1255.8 1214.4L1250.6 1214.4L1233.5 1198.3L1233.5 1191.1ZM1278.6 1175.8L1283.8 1175.8L1300.9 1191.9L1300.9 1199.1L1283.8 1215.2L1278.6 1215.2L1261.5 1199.1L1261.5 1191.9ZM1306.6 1175.8L1311.8 1175.8L1328.9 1191.9L1328.9 1199.1L1311.8 1215.2L1306.6 1215.2L1289.5 1199.1L1289.5 1191.9ZM1334.4 1176.3L1339.6 1176.3L1356.7 1192.4L1356.7 1199.6L1339.6 1215.7L1334.4 1215.7L1317.3 1199.6L1317.3 1192.4ZM1360.4 1176.6L1365.6 1176.6L1382.7 1192.7L1382.7 1199.9L1365.6 1216L1360.4 1216L1343.3 1199.9L1343.3 1192.7ZM1388 1177L1393.2 1177L1410.3 1193.1L1410.3 1200.3L1393.2 1216.4L1388 1216.4L1370.9 1200.3L1370.9 1193.1ZM1415.8 1177L1421 1177L1438.1 1193.1L1438.1 1200.3L1421 1216.4L1415.8 1216.4L1398.7 1200.3L1398.7 1193.1ZM1443.7 1176.9L1448.9 1176.9L1466 1193L1466 1200.2L1448.9 1216.3L1443.7 1216.3L1426.6 1200.2L1426.6 1193ZM1471.3 1176.9L1476.5 1176.9L1493.6 1193L1493.6 1200.2L1476.5 1216.3L1471.3 1216.3L1454.2 1200.2L1454.2 1193ZM1499.3 1178.1L1504.5 1178.1L1521.6 1194.2L1521.6 1201.4L1504.5 1217.5L1499.3 1217.5L1482.2 1201.4L1482.2 1194.2ZM1527.4 1178.5L1532.6 1178.5L1549.7 1194.6L1549.7 1201.8L1532.6 1217.9L1527.4 1217.9L1510.3 1201.8L1510.3 1194.6ZM1555.7 1179.3L1560.9 1179.3L1578 1195.4L1578 1202.6L1560.9 1218.7L1555.7 1218.7L1538.6 1202.6L1538.6 1195.4ZM1583.8 1180.1L1589 1180.1L1606.1 1196.2L1606.1 1203.4L1589 1219.5L1583.8 1219.5L1566.7 1203.4L1566.7 1196.2ZM1611.6 1179.7L1616.8 1179.7L1633.9 1195.8L1633.9 1203L1616.8 1219.1L1611.6 1219.1L1594.5 1203L1594.5 1195.8ZM1639.5 1180.1L1644.7 1180.1L1661.8 1196.2L1661.8 1203.4L1644.7 1219.5L1639.5 1219.5L1622.4 1203.4L1622.4 1196.2ZM1667.6 1180.5L1672.8 1180.5L1689.9 1196.6L1689.9 1203.8L1672.8 1219.9L1667.6 1219.9L1650.5 1203.8L1650.5 1196.6ZM1695.8 1180.8L1701 1180.8L1718.1 1196.9L1718.1 1204.1L1701 1220.2L1695.8 1220.2L1678.7 1204.1L1678.7 1196.9Z" fill="#00ffff"/>
<polyline points="364,76.6 378.1,154 392.1,183.1 406.1,203.2 420.2,222.3 434.2,243.3 448.3,262.4 462.3,280 476.4,299.5 490.4,317 504.4,331.8 518.3,343.8 532.3,353 546.3,362.4 560.3,369.2 574.3,374.7 588.3,377.4 602.2,380.8 616.2,382.8 630.2,385.5 644,387.5 657.9,388.5 671.7,389.5 685.5,390.5 699.4,392.9 713.2,393.5 727.1,394 740.9,394.5 754.7,394.5 768.6,394.5 782.4,394.5 796.2,394.5 810.1,394.4 823.9,394.2 837.8,394 851.6,393.8 865.4,393.6 879.3,392.9 893.1,392.1 906.7,391.2 920.3,390.4 933.9,389.6 947.5,388.6 961.1,387.6 974.7,386.6 988.3,386 1001.9,385.5 1015.5,385 1029.1,384.5 1056.5,382.8 1084.6,379.7 1112.6,376.6 1140.9,374.5 1169.3,373 1197.4,371.8 1225.4,368.3 1253.2,366.8 1281.2,365.5 1309.2,365 1337,365.4 1363,365.4 1390.6,364.6 1418.4,365.6 1446.3,364.7 1473.9,363.1 1501.9,360.9 1530,358.8 1558.3,358.4 1586.4,357.7 1614.2,358.4 1642.1,359.1 1670.2,358.8 1698.4,360.3" fill="none" stroke="#ff00ff" stroke-width="3" stroke-opacity="0.6"/>
<path d="M345.3 76.6L373.4 60.4L373.4 92.8ZM359.3 154L387.4 137.8L387.4 170.2ZM373.4 183.1L401.5 166.9L401.5 199.3ZM387.4 203.2L415.5 187L415.5 219.4ZM401.5 222.3L429.6 206.1L429.6 238.5ZM415.5 243.3L443.6 227.1L443.6 259.5ZM429.6 262.4L457.7 246.2L457.7 278.6ZM443.6 280L471.7 263.8L471.7 296.2ZM457.7 299.5L485.8 283.3L485.8 315.7ZM471.7 317L499.7 300.8L499.7 333.2ZM485.7 331.8L513.7 315.6L513.7 348ZM499.6 343.8L527.7 327.6L527.7 360ZM513.6 353L541.7 336.8L541.7 369.2ZM527.6 362.4L555.7 346.2L555.7 378.6ZM541.6 369.2L569.6 353L569.6 385.4ZM555.6 374.7L583.6 358.5L583.6 390.9ZM569.5 377.4L597.6 361.2L597.6 393.6ZM583.5 380.8L611.6 364.6L611.6 397ZM597.5 382.8L625.6 366.6L625.6 399ZM611.5 385.5L639.6 369.3L639.6 401.7ZM625.3 387.5L653.4 371.3L653.4 403.7ZM639.2 388.5L667.2 372.3L667.2 404.7ZM653 389.5L681.1 373.3L681.1 405.7ZM666.8 390.5L694.9 374.3L694.9 406.7ZM680.7 392.9L708.7 376.7L708.7 409.1ZM694.5 393.5L722.6 377.3L722.6 409.7ZM708.4 394L736.4 377.8L736.4 410.2ZM722.2 394.5L750.2 378.3L750.2 410.7ZM736 394.5L764.1 378.3L764.1 410.7ZM749.9 394.5L777.9 378.3L777.9 410.7ZM763.7 394.5L791.8 378.3L791.8 410.7ZM777.5 394.5L805.6 378.3L805.6 410.7ZM791.4 394.4L819.4 378.2L819.4 410.6ZM805.2 394.2L833.3 378L833.3 410.4ZM819 394L847.1 377.8L847.1 410.2ZM832.9 393.8L860.9 377.6L860.9 410ZM846.7 393.6L874.8 377.4L874.8 409.8ZM860.6 392.9L888.6 376.7L888.6 409.1ZM874.4 392.1L902.5 375.9L902.5 408.3ZM888 391.2L916.1 375L916.1 407.4ZM901.6 390.4L929.7 374.2L929.7 406.6ZM915.2 389.6L943.3 373.4L943.3 405.8ZM928.8 388.6L956.9 372.4L956.9 404.8ZM942.4 387.6L970.5 371.4L970.5 403.8ZM956 386.6L984.1 370.4L984.1 402.8ZM969.6 386L997.7 369.8L997.7 402.2ZM983.2 385.5L1011.3 369.3L1011.3 401.7ZM996.8 385L1024.9 368.8L1024.9 401.2ZM1010.4 384.5L1038.5 368.3L1038.5 400.7ZM1037.8 382.8L1065.9 366.6L1065.9 399ZM1065.9 379.7L1094 363.5L1094 395.9ZM1093.9 376.6L1122 360.4L1122 392.8ZM1122.2 374.5L1150.3 358.3L1150.3 390.7ZM1150.6 373L1178.7 356.8L1178.7 389.2ZM1178.7 371.8L1206.8 355.6L1206.8 388ZM1206.7 368.3L1234.8 352.1L1234.8 384.5ZM1234.5 366.8L1262.6 350.6L1262.6 383ZM1262.5 365.5L1290.6 349.3L1290.6 381.7ZM1290.5 365L1318.6 348.8L1318.6 381.2ZM1318.3 365.4L1346.4 349.2L1346.4 381.6ZM1344.3 365.4L1372.4 349.2L1372.4 381.6ZM1371.9 364.6L1400 348.4L1400 380.8ZM1399.7 365.6L1427.8 349.4L1427.8 381.8ZM1427.6 364.7L1455.7 348.5L1455.7 380.9ZM1455.2 363.1L1483.3 346.9L1483.3 379.3ZM1483.2 360.9L1511.3 344.7L1511.3 377.1ZM1511.3 358.8L1539.4 342.6L1539.4 375ZM1539.6 358.4L1567.7 342.2L1567.7 374.6ZM1567.7 357.7L1595.8 341.5L1595.8 373.9ZM1595.5 358.4L1623.6 342.2L1623.6 374.6ZM1623.4 359.1L1651.5 342.9L1651.5 375.3ZM1651.5 358.8L1679.6 342.6L1679.6 375ZM1679.7 360.3L1707.8 344.1L1707.8 376.5Z" fill="#ff00ff" stroke="#ff00ff" stroke-width="4.0" stroke-linejoin="round"/>
</g>
<path d="M298.7 585.2H343.7M391.7 585.2H437.5" stroke="#000" stroke-opacity="0.55" stroke-width="4"/>
<path d="M352.7 570.2h30v30h-30Z" fill="#000"/>
<text x="452" y="607.2" font-family="'Liberation Sans', Arial, Helvetica, sans-serif" stroke-width="0.9" font-size="64" fill="#111" stroke="#111">CO</text>
<path d="M298.7 660.1H343.7M391.7 660.1H437.5" stroke="#ff0000" stroke-opacity="0.6" stroke-width="4"/>
<path d="M351.4 660.1a16.3 16.3 0 1 0 32.6 0a16.3 16.3 0 1 0 -32.6 0Z" fill="#ff0000"/>
<text x="452" y="682.1" font-family="'Liberation Sans', Arial, Helvetica, sans-serif" stroke-width="0.9" font-size="64" fill="#111" stroke="#111">H2</text>
<path d="M1402.8 511.5H1448.4M1496.4 511.5H1543" stroke="#00ff00" stroke-opacity="0.5" stroke-width="4"/>
<path d="M1472.4 492L1489.3 521.3L1455.5 521.3Z" fill="#00ff00" stroke="#00ff00" stroke-width="4.0" stroke-linejoin="round"/>
<text transform="translate(1558.5 533.5) scale(0.965 1)" font-family="'Liberation Sans', Arial, Helvetica, sans-serif" stroke-width="0.9" font-size="64" fill="#111" stroke="#111">CO2</text>
<path d="M1402.8 587.9H1448.4M1496.4 587.9H1543" stroke="#0000ff" stroke-opacity="0.4" stroke-width="4"/>
<path d="M1472.4 607.4L1489.3 578.1L1455.5 578.1Z" fill="#0000ff" stroke="#0000ff" stroke-width="4.0" stroke-linejoin="round"/>
<text transform="translate(1558.5 609.9) scale(0.965 1)" font-family="'Liberation Sans', Arial, Helvetica, sans-serif" stroke-width="0.9" font-size="64" fill="#111" stroke="#111">CH4</text>
<path d="M1402.8 663.1H1448.4M1496.4 663.1H1543" stroke="#00ffff" stroke-opacity="0.8" stroke-width="4"/>
<path d="M1471.4 642.8L1473.4 642.8L1492.7 660.1L1492.7 666.1L1473.4 683.4L1471.4 683.4L1452.1 666.1L1452.1 660.1Z" fill="#00ffff"/>
<text transform="translate(1558.5 685.1) scale(0.965 1)" font-family="'Liberation Sans', Arial, Helvetica, sans-serif" stroke-width="0.9" font-size="64" fill="#111" stroke="#111">C2-C3</text>
<path d="M1402.8 737.9H1448.4M1496.4 737.9H1543" stroke="#ff00ff" stroke-opacity="0.6" stroke-width="4"/>
<path d="M1452.9 737.9L1482.2 721L1482.2 754.8Z" fill="#ff00ff" stroke="#ff00ff" stroke-width="4.0" stroke-linejoin="round"/>
<text transform="translate(1558.5 759.9) scale(0.965 1)" font-family="'Liberation Sans', Arial, Helvetica, sans-serif" stroke-width="0.9" font-size="64" fill="#111" stroke="#111">C4+</text>
</g>
</svg>
</body></html>
